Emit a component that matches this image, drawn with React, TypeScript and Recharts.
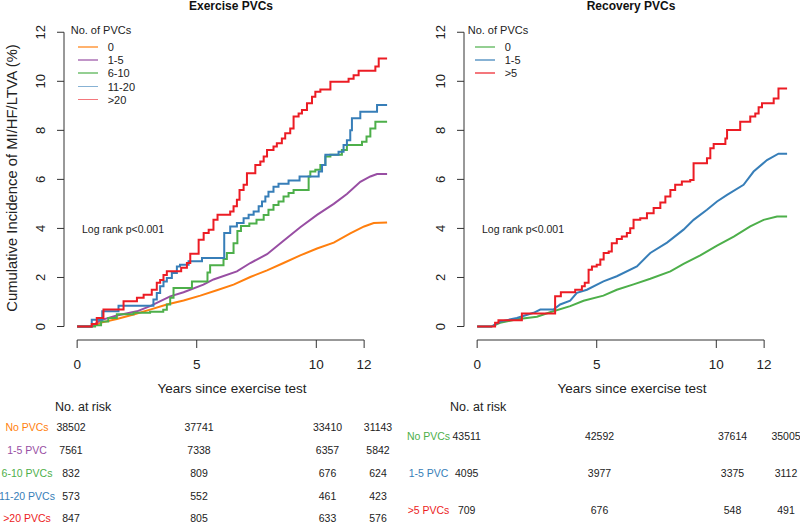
import React from "react";
import { LineChart, Line, XAxis, YAxis, ReferenceLine } from "recharts";

type Pt = [number, number];

// years since test, cumulative incidence (%)
const exNone: Pt[] = [
  [0, 0], [0.6, 0], [0.96, 0.15], [1.66, 0.31], [2.36, 0.49], [3.05, 0.69], [3.75, 0.9],
  [4.45, 1.06], [5.15, 1.26], [5.84, 1.48], [6.54, 1.71], [7.24, 2.02], [7.94, 2.29],
  [8.63, 2.59], [9.33, 2.9], [10.03, 3.18], [10.73, 3.42], [11.42, 3.8], [12.0, 4.08],
  [12.4, 4.22], [12.96, 4.24],
];
const ex1to5: Pt[] = [
  [0, 0], [0.6, 0], [0.96, 0.25], [1.66, 0.45], [2.5, 0.62], [3.05, 0.83], [3.89, 1.23],
  [4.45, 1.4], [5.28, 1.71], [5.7, 1.92], [6.68, 2.25], [7.24, 2.59], [7.94, 2.95],
  [8.63, 3.5], [9.33, 4.05], [10.03, 4.55], [10.73, 5.0], [11.28, 5.4], [11.84, 5.9],
  [12.26, 6.12], [12.54, 6.22], [12.96, 6.22],
];
const ex6to10: Pt[] = [
  [0, 0], [0.75, 0.05], [1.0, 0.2], [1.3, 0.35], [1.66, 0.5], [2.36, 0.56], [3.05, 0.6],
  [3.6, 0.68], [3.75, 0.9], [3.89, 1.17], [4.03, 1.57], [4.8, 1.84], [5.45, 2.2],
  [5.56, 2.5], [6.12, 2.75], [6.26, 3.0], [6.54, 3.4], [6.7, 3.9], [6.85, 4.1], [7.2, 4.2],
  [7.5, 4.35], [7.8, 4.55], [8.0, 4.76], [8.21, 4.96], [8.42, 5.1], [8.63, 5.3],
  [8.84, 5.44], [9.05, 5.57], [9.68, 6.12], [9.75, 6.32], [9.96, 6.39], [10.17, 6.59],
  [10.38, 6.93], [10.59, 7.0], [11.07, 7.2], [11.28, 7.4], [11.91, 7.54], [12.1, 7.75],
  [12.26, 8.08], [12.47, 8.35], [12.96, 8.35],
];
const ex11to20: Pt[] = [
  [0, 0], [0.61, 0.28], [1.05, 0.62], [1.73, 0.85], [3.19, 1.1], [3.33, 1.37], [3.47, 1.64],
  [3.61, 1.84], [3.75, 1.98], [3.96, 2.18], [4.17, 2.45], [4.3, 2.52], [4.66, 2.66],
  [5.22, 2.79], [6.15, 3.81], [6.4, 4.08], [6.68, 4.22], [6.96, 4.42], [7.17, 4.56],
  [7.38, 4.69], [7.59, 4.9], [7.73, 5.1], [7.87, 5.3], [8.0, 5.5], [8.21, 5.7],
  [8.42, 5.82], [8.84, 5.95], [9.3, 6.12], [10.1, 6.32], [10.24, 6.59], [10.38, 7.0],
  [10.93, 7.13], [11.14, 7.4], [11.28, 7.6], [11.42, 8.0], [11.49, 8.49], [11.84, 8.76],
  [12.54, 9.03], [12.96, 9.03],
];
const exOver20: Pt[] = [
  [0, 0], [0.61, 0.1], [0.82, 0.35], [1.1, 0.69], [1.94, 1.03], [2.5, 1.17], [2.78, 1.3],
  [3.12, 1.5], [3.33, 1.78], [3.47, 1.9], [3.61, 2.1], [3.75, 2.25], [4.35, 2.4],
  [4.59, 2.59], [4.73, 2.97], [5.08, 3.54], [5.29, 3.81], [5.5, 3.95], [5.7, 4.35],
  [5.87, 4.56], [6.4, 4.69], [6.54, 4.9], [6.68, 5.17], [6.79, 5.57], [6.96, 5.78],
  [7.1, 6.25], [7.45, 6.59], [7.66, 6.73], [7.8, 6.93], [7.94, 7.2], [8.21, 7.34],
  [8.35, 7.47], [8.56, 7.67], [8.7, 7.88], [8.91, 8.08], [9.05, 8.56], [9.26, 8.69],
  [9.4, 8.83], [9.61, 9.1], [9.82, 9.37], [9.96, 9.57], [10.17, 9.67], [10.59, 9.98],
  [11.35, 10.1], [11.56, 10.25], [11.77, 10.43], [12.47, 10.6], [12.61, 10.93],
  [12.96, 10.93],
];

const rcNone: Pt[] = [
  [0, 0], [0.6, 0], [0.96, 0.15], [1.66, 0.3], [2.5, 0.4], [3.05, 0.58], [3.89, 0.83],
  [4.45, 1.05], [5.28, 1.26], [5.84, 1.5], [6.54, 1.72], [7.24, 1.95], [8.08, 2.25],
  [8.63, 2.55], [9.33, 2.9], [10.03, 3.3], [10.73, 3.67], [11.42, 4.08], [11.98, 4.35],
  [12.54, 4.49], [12.96, 4.49],
];
const rc1to5: Pt[] = [
  [0, 0], [0.6, 0], [0.96, 0.2], [1.66, 0.35], [2.36, 0.56], [2.64, 0.69], [3.19, 0.69],
  [3.47, 0.9], [3.89, 1.05], [4.17, 1.37], [4.59, 1.5], [5.28, 1.84], [5.84, 2.05],
  [6.68, 2.45], [7.24, 3.0], [7.94, 3.42], [8.63, 3.95], [9.05, 4.35], [9.61, 4.76],
  [10.03, 5.1], [10.45, 5.37], [11.14, 5.78], [11.56, 6.32], [12.12, 6.79], [12.6, 7.05],
  [12.96, 7.05],
];
const rcOver5: Pt[] = [
  [0, 0], [0.75, 0.15], [0.89, 0.26], [1.87, 0.53], [3.26, 1.23], [3.5, 1.4], [4.1, 1.5],
  [4.38, 1.64], [4.5, 1.78], [4.66, 2.32], [4.8, 2.45], [5.0, 2.52], [5.15, 2.73],
  [5.29, 3.0], [5.5, 3.06], [5.63, 3.4], [5.84, 3.57], [6.05, 3.67], [6.26, 3.81],
  [6.4, 4.01], [6.54, 4.35], [6.82, 4.42], [7.1, 4.62], [7.38, 4.83], [7.66, 5.06],
  [7.87, 5.3], [8.08, 5.57], [8.28, 5.78], [8.56, 5.91], [8.91, 5.98], [9.05, 6.66],
  [9.61, 6.86], [9.75, 7.27], [9.89, 7.44], [10.38, 7.67], [10.45, 8.01], [11.0, 8.35],
  [11.42, 8.56], [11.63, 8.69], [11.77, 8.94], [11.91, 9.1], [12.4, 9.3], [12.6, 9.71],
  [12.96, 9.71],
];

const exLegend = ["0", "1-5", "6-10", "11-20", ">20"];
const exRowNames = ["No PVCs", "1-5 PVC", "6-10 PVCs", "11-20 PVCs", ">20 PVCs"];
const exRisk = [
  [38502, 37741, 33410, 31143],
  [7561, 7338, 6357, 5842],
  [832, 809, 676, 624],
  [573, 552, 461, 423],
  [847, 805, 633, 576],
];

const rcLegend = ["0", "1-5", ">5"];
const rcRowNames = ["No PVCs", "1-5 PVC", ">5 PVCs"];
const rcRisk = [
  [43511, 42592, 37614, 35005],
  [4095, 3977, 3375, 3112],
  [709, 676, 548, 491],
];

const yTicks = [0, 2, 4, 6, 8, 10, 12];
const xTicks = [0, 5, 10, 12];

const ORANGE = "#ff7f0e";
const PURPLE = "#984ea3";
const GREEN = "#4daf4a";
const BLUE = "#377eb8";
const RED = "#ec1c24";
const AXIS = "#333";
const FONT = '"Liberation Sans", Arial, Helvetica, sans-serif';

const toRows = (pts: Pt[]) => pts.map(([t, v]) => ({ t, v }));

const YTick = (props: any) => {
  const { x, y, payload } = props;
  const bx = x - 10;
  return (
    <text x={bx} y={y} transform={`rotate(-90 ${bx} ${y})`} textAnchor="middle"
      fontSize={13} fill="#222" fontFamily={FONT}>
      {payload.value}
    </text>
  );
};

const XTick = (props: any) => {
  const { x, y, payload } = props;
  return (
    <text x={x} y={y + 19} textAnchor="middle" fontSize={13.5} fill="#222" fontFamily={FONT}>
      {payload.value}
    </text>
  );
};

const Txt = ({ x, y, children, size = 11, color = "#222", bold = false, align = "center", rotate = false }: any) => (
  <div
    style={{
      position: "absolute",
      left: x,
      top: y,
      transform: `translate(${align === "center" ? "-50%" : "0"}, -50%)${rotate ? " rotate(-90deg)" : ""}`,
      fontSize: size,
      color,
      fontWeight: bold ? "bold" : "normal",
      whiteSpace: "nowrap",
      lineHeight: 1,
    }}
  >
    {children}
  </div>
);

interface Series {
  name: string;
  color: string;
  pts: Pt[];
  step: boolean;
}

interface PanelProps {
  left: number;
  title: string;
  series: Series[];
  rowNames: string[];
  risk: number[][];
  rowY: number[];
  colX: number[];
  labelX: number;
  legendX: number;
  riskTitleX: number;
  yTitle?: boolean;
}

const Panel = (p: PanelProps) => (
  <div style={{ position: "absolute", left: p.left, top: 0, width: 400, height: 523 }}>
    <LineChart width={400} height={381} margin={{ top: 20, right: 0, left: 0, bottom: 0 }}>
      <XAxis dataKey="t" type="number" domain={[-0.55, 13.5]} ticks={xTicks} allowDataOverflow
        axisLine={false} tickSize={8} tickLine={{ stroke: AXIS }} height={41} tick={<XTick />} interval={0} />
      <YAxis type="number" domain={[-0.55, 12.5]} ticks={yTicks} allowDataOverflow width={64}
        axisLine={false} tickSize={7} tickLine={{ stroke: AXIS }} tick={<YTick />} interval={0} />
      <ReferenceLine segment={[{ x: 0, y: -0.55 }, { x: 12, y: -0.55 }]} stroke={AXIS} ifOverflow="visible" />
      <ReferenceLine segment={[{ x: -0.55, y: 0 }, { x: -0.55, y: 12 }]} stroke={AXIS} ifOverflow="visible" />
      {p.series.map((s) => (
        <Line key={s.name} data={toRows(s.pts)} dataKey="v" type={s.step ? "stepAfter" : "linear"}
          stroke={s.color} strokeWidth={2} dot={false} isAnimationActive={false} />
      ))}
    </LineChart>
    <Txt x={231} y={5.5} size={12} bold color="#111">{p.title}</Txt>
    <Txt x={p.legendX} y={30} size={11} align="left">No. of PVCs</Txt>
    {p.series.map((s, i) => (
      <React.Fragment key={s.name}>
        <div style={{ position: "absolute", left: p.legendX + 7, top: 46 + i * 13.2, width: 20,
          height: 1.5, background: s.color, opacity: 0.6 }} />
        <Txt x={p.legendX + 37} y={47 + i * 13.2} size={11} align="left">{s.name}</Txt>
      </React.Fragment>
    ))}
    <Txt x={82} y={229} size={10.5} align="left">Log rank p&lt;0.001</Txt>
    <Txt x={232} y={389} size={13.5}>Years since exercise test</Txt>
    {p.yTitle && <Txt x={12} y={178} size={14.8} rotate>Cumulative Incidence of MI/HF/LTVA (%)</Txt>}
    <Txt x={p.riskTitleX} y={407} size={12.5} align="left">No. at risk</Txt>
    {p.rowNames.map((name, r) => (
      <React.Fragment key={name}>
        <Txt x={p.labelX} y={p.rowY[r]} size={10.5} color={p.series[r].color}>{name}</Txt>
        {p.risk[r].map((n, c) => (
          <Txt key={c} x={p.colX[c]} y={p.rowY[r]} size={10.5}>{n}</Txt>
        ))}
      </React.Fragment>
    ))}
  </div>
);

export default function App() {
  const exSeries: Series[] = [
    { name: exLegend[0], color: ORANGE, pts: exNone, step: false },
    { name: exLegend[1], color: PURPLE, pts: ex1to5, step: false },
    { name: exLegend[2], color: GREEN, pts: ex6to10, step: true },
    { name: exLegend[3], color: BLUE, pts: ex11to20, step: true },
    { name: exLegend[4], color: RED, pts: exOver20, step: true },
  ];
  const rcSeries: Series[] = [
    { name: rcLegend[0], color: GREEN, pts: rcNone, step: false },
    { name: rcLegend[1], color: BLUE, pts: rc1to5, step: false },
    { name: rcLegend[2], color: RED, pts: rcOver5, step: true },
  ];
  return (
    <div style={{ position: "absolute", left: 0, top: 0, width: 800, height: 523, background: "#fff",
      fontFamily: FONT, overflow: "hidden" }}>
      <Panel left={0} title="Exercise PVCs" series={exSeries} rowNames={exRowNames} risk={exRisk}
        rowY={[427.3, 450, 473.3, 495.7, 518.3]} colX={[71, 199, 327.5, 378]} labelX={27}
        legendX={70.7} riskTitleX={55} yTitle />
      <Panel left={400} title="Recovery PVCs" series={rcSeries} rowNames={rcRowNames} risk={rcRisk}
        rowY={[436, 473, 510]} colX={[66.7, 199.5, 332.5, 386]} labelX={28.5}
        legendX={67.7} riskTitleX={50} />
    </div>
  );
}
